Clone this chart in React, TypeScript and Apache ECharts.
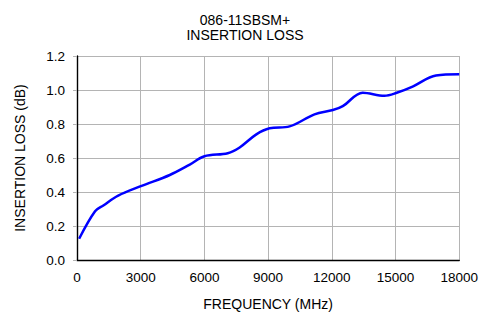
import React, { useEffect, useRef } from "react";
import * as echarts from "echarts";

const freqMHz = [100, 850, 1240, 1940, 3040, 4370, 5310, 6000, 7100, 7660, 8445, 9070, 10010, 11185, 12050, 12515, 13455, 14475, 15025, 15805, 16905, 18000];
const lossDb = [0.125, 0.287, 0.321, 0.379, 0.436, 0.5, 0.561, 0.61, 0.628, 0.662, 0.739, 0.775, 0.786, 0.857, 0.882, 0.905, 0.984, 0.966, 0.982, 1.02, 1.085, 1.092];
const titleLines = ["086-11SBSM+", "INSERTION LOSS"];

export default function App() {
  const ref = useRef<HTMLDivElement>(null);
  useEffect(() => {
    if (!ref.current) return;
    const chart = echarts.init(ref.current, undefined, { renderer: "svg" });
    const font = "'Liberation Sans', Arial, sans-serif";
    chart.setOption({
      animation: false,
      backgroundColor: "#ffffff",
      title: {
        text: titleLines.join("\n"),
        left: 245,
        top: 12.5,
        padding: 0,
        textAlign: "center",
        textStyle: { fontFamily: font, fontSize: 14, fontWeight: "normal", color: "#000", lineHeight: 15 },
      },
      grid: { left: 77, right: 21, top: 56, bottom: 50 },
      xAxis: {
        type: "value",
        min: 0,
        max: 18000,
        interval: 3000,
        name: "FREQUENCY (MHz)",
        nameLocation: "middle",
        nameGap: 37,
        nameTextStyle: { fontFamily: font, fontSize: 14, color: "#000" },
        axisLine: { show: true, onZero: false, lineStyle: { color: "#000", width: 1.4 } },
        axisTick: { show: false },
        axisLabel: { fontFamily: font, fontSize: 13.5, color: "#000", margin: 10, formatter: (v: number) => String(v) },
        splitLine: { show: true, lineStyle: { color: "#b4b4b4", width: 1 } },
      },
      yAxis: {
        type: "value",
        min: 0,
        max: 1.2,
        interval: 0.2,
        name: "INSERTION LOSS (dB)",
        nameLocation: "middle",
        nameGap: 50.5,
        nameTextStyle: { fontFamily: font, fontSize: 14, color: "#000" },
        axisLine: { show: true, lineStyle: { color: "#000", width: 1.4 } },
        axisTick: { show: true, length: 4, lineStyle: { color: "#b4b4b4" } },
        axisLabel: { fontFamily: font, fontSize: 13.5, color: "#000", margin: 12, formatter: (v: number) => v.toFixed(1) },
        splitLine: { show: true, lineStyle: { color: "#b4b4b4", width: 1 } },
      },
      series: [
        {
          type: "line",
          data: freqMHz.map((f, i) => [f, lossDb[i]]),
          smooth: 0.35,
          showSymbol: false,
          lineStyle: { color: "#0000ff", width: 2.5 },
        },
      ],
    });
    return () => chart.dispose();
  }, []);
  return <div ref={ref} style={{ position: "absolute", left: 0, top: 0, width: 481, height: 316 }} />;
}
